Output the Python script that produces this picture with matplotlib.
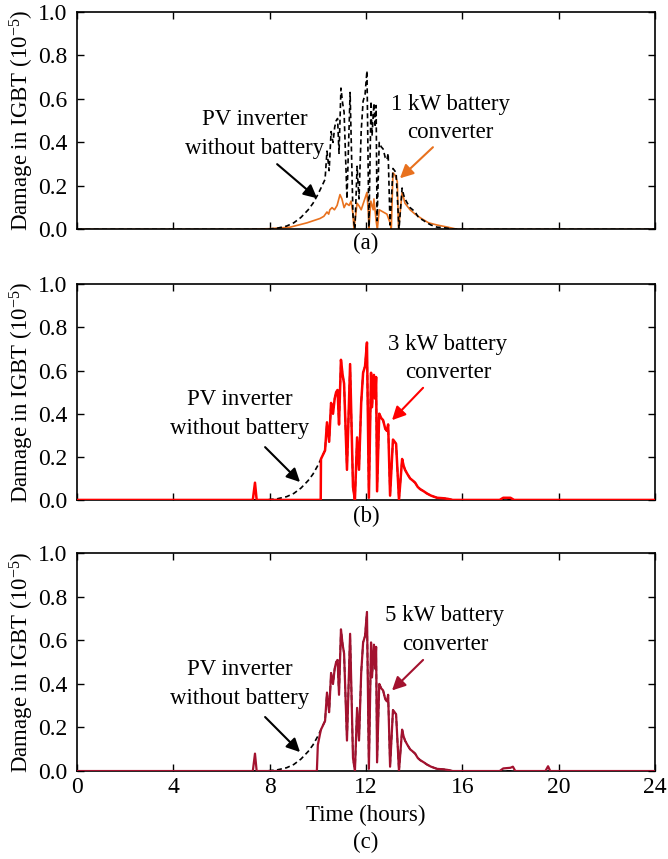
import matplotlib
matplotlib.use("Agg")
import matplotlib.pyplot as plt

plt.rcParams["font.family"] = ["Liberation Serif", "DejaVu Serif"]
plt.rcParams["mathtext.fontset"] = "custom"
plt.rcParams["mathtext.rm"] = "Liberation Serif"
plt.rcParams["mathtext.it"] = "Liberation Serif:italic"

# midday part shared by the no-battery curve and the 3/5 kW converters
midday_t = [10.13, 10.30, 10.38, 10.47, 10.55, 10.63, 10.70, 10.76, 10.82, 10.88,
            10.96, 11.03, 11.09, 11.21, 11.34, 11.46, 11.54, 11.63, 11.71, 11.80,
            11.88, 11.96, 12.04, 12.12, 12.21, 12.25, 12.33, 12.38, 12.42, 12.46,
            12.55, 12.63, 12.71, 12.80, 12.87, 12.92, 13.00, 13.12, 13.19, 13.25,
            13.37, 13.50, 13.56, 13.62, 13.72, 13.83, 13.94, 14.04, 14.15, 14.25,
            14.40, 14.53, 14.70, 14.95, 15.20, 15.40, 15.60, 24.0]
midday_v = [0.19, 0.23, 0.36, 0.27, 0.45, 0.40, 0.47, 0.50, 0.51, 0.35,
            0.65, 0.58, 0.54, 0.14, 0.63, 0.06, 0.00, 0.29, 0.14, 0.45,
            0.59, 0.62, 0.73, 0.01, 0.59, 0.43, 0.58, 0.47, 0.57, 0.04,
            0.40, 0.38, 0.37, 0.33, 0.32, 0.35, 0.02, 0.28, 0.27, 0.26,
            0.00, 0.19, 0.16, 0.14, 0.12, 0.10, 0.09, 0.08, 0.06, 0.05,
            0.04, 0.03, 0.02, 0.01, 0.008, 0.005, 0.0, 0.0]

# PV inverter without battery: morning ramp before the shared part
nobatt_t = [0.0, 7.8, 8.3, 8.7, 9.0, 9.3, 9.6, 9.8, 10.0]
nobatt_v = [0.0, 0.0, 0.005, 0.015, 0.03, 0.055, 0.09, 0.12, 0.16]

# 1 kW battery converter
kw1_t = [0.0, 7.0, 8.0, 8.85, 9.55, 10.09, 10.25, 10.38, 10.45, 10.50, 10.59,
         10.69, 10.80, 10.92, 11.00, 11.09, 11.18, 11.30, 11.38, 11.46, 11.50,
         11.63, 11.70, 11.80, 11.92, 12.04, 12.10, 12.12, 12.20, 12.30, 12.33,
         12.42, 12.47, 12.55, 12.71, 12.87, 13.00, 13.05, 13.12, 13.20, 13.30,
         13.35, 13.50, 13.62, 13.83, 14.04, 14.30, 14.60, 14.95, 15.40, 15.80, 24.0]
kw1_v = [0.0, 0.0, 0.003, 0.01, 0.03, 0.05, 0.06, 0.08, 0.07, 0.09, 0.10,
         0.09, 0.11, 0.16, 0.14, 0.10, 0.12, 0.11, 0.13, 0.07, 0.0,
         0.12, 0.11, 0.09, 0.13, 0.17, 0.07, 0.0, 0.13, 0.09, 0.14,
         0.04, 0.0, 0.09, 0.08, 0.07, 0.03, 0.0, 0.26, 0.25, 0.22,
         0.0, 0.17, 0.12, 0.09, 0.07, 0.05, 0.03, 0.02, 0.01, 0.0, 0.0]

# 3 kW battery converter: morning spike, then follows the shared part
kw3_pre_t = [0.0, 7.30, 7.39, 7.46, 10.12]
kw3_pre_v = [0.0, 0.0, 0.08, 0.0, 0.0]
kw3_eve_t = [17.55, 17.70, 18.00, 18.15]
kw3_eve_v = [0.0, 0.01, 0.01, 0.0]

# 5 kW battery converter
kw5_pre_t = [0.0, 7.30, 7.39, 7.46, 9.96, 10.0, 10.09]
kw5_pre_v = [0.0, 0.0, 0.08, 0.0, 0.0, 0.12, 0.17]
kw5_eve_t = [17.55, 17.70, 18.00, 18.10, 18.20, 19.45, 19.56, 19.65]
kw5_eve_v = [0.0, 0.012, 0.015, 0.02, 0.0, 0.0, 0.022, 0.0]


def merge(pre_t, pre_v, eve_t=(), eve_v=()):
    t = list(pre_t) + midday_t[:-1]
    v = list(pre_v) + midday_v[:-1]
    t += [16.0] + list(eve_t) + [24.0]
    v += [0.0] + list(eve_v) + [0.0]
    return t, v


nobatt = merge(nobatt_t, nobatt_v)
kw3 = merge(kw3_pre_t, kw3_pre_v, kw3_eve_t, kw3_eve_v)
kw5 = merge(kw5_pre_t, kw5_pre_v, kw5_eve_t, kw5_eve_v)

ORANGE = "#E8711E"
RED = "#FF0000"
CRIMSON = "#A3122F"

fig = plt.figure(figsize=(6.68, 8.59), dpi=100)
left, width = 0.1153, 0.8652
axes = [fig.add_axes([left, 0.733, width, 0.253]),
        fig.add_axes([left, 0.418, width, 0.251]),
        fig.add_axes([left, 0.1024, width, 0.2536])]

panels = [
    (kw1_t, kw1_v, ORANGE, 1.2, "1 kW battery\nconverter"),
    (kw3[0], kw3[1], RED, 1.8, "3 kW battery\nconverter"),
    (kw5[0], kw5[1], CRIMSON, 1.6, "5 kW battery\nconverter"),
]

# annotation placement (data coords): pv text, pv arrow tail/tip, bat text, bat arrow tail/tip
notes = [
    ((7.39, 0.44), (8.31, 0.30), (9.97, 0.143), (15.49, 0.51), (14.78, 0.378), (13.41, 0.235)),
    ((6.77, 0.40), (7.81, 0.245), (9.26, 0.083), (15.40, 0.657), (14.37, 0.52), (13.08, 0.37)),
    ((6.77, 0.40), (7.81, 0.248), (9.26, 0.087), (15.28, 0.647), (14.37, 0.51), (13.08, 0.37)),
]

for i, (ax, (t, v, color, lw, label), note) in enumerate(zip(axes, panels, notes)):
    if i == 0:
        ax.plot(t, v, color=color, lw=lw, zorder=2)
        ax.plot(nobatt[0], nobatt[1], color="black", lw=1.2, ls=(0, (3, 2)), zorder=3)
    else:
        ax.plot(nobatt[0], nobatt[1], color="black", lw=1.2, ls=(0, (3, 2)), zorder=2)
        ax.plot(t, v, color=color, lw=lw, zorder=3)

    ax.set_xlim(0, 24)
    ax.set_ylim(0, 1.0)
    ax.set_xticks([0, 4, 8, 12, 16, 20, 24])
    ax.set_yticks([0, 0.2, 0.4, 0.6, 0.8, 1.0])
    ax.set_yticklabels(["0.0", "0.2", "0.4", "0.6", "0.8", "1.0"])
    ax.tick_params(direction="in", top=True, right=True, length=5, width=1,
                   labelsize=17, pad=4)
    ax.tick_params(axis="y", pad=7)
    if i < 2:
        ax.tick_params(labelbottom=False)
    for s in ax.spines.values():
        s.set_linewidth(1.2)
    ax.set_ylabel("Damage in IGBT (10$^{-5}$)", fontsize=16.5)
    ax.yaxis.set_label_coords(-0.071, 0.5)

    pv_txt, pv_tail, pv_tip, b_txt, b_tail, b_tip = note
    ax.text(*pv_txt, "PV inverter\nwithout battery", ha="center", va="center",
            fontsize=16.5, linespacing=1.5)
    ax.annotate("", xy=pv_tip, xytext=pv_tail,
                arrowprops=dict(arrowstyle="-|>", color="black", lw=1.5,
                                mutation_scale=20, shrinkA=0, shrinkB=0))
    ax.text(*b_txt, label, ha="center", va="center", fontsize=16.5, linespacing=1.45)
    ax.annotate("", xy=b_tip, xytext=b_tail,
                arrowprops=dict(arrowstyle="-|>", color=color, lw=1.5,
                                mutation_scale=20, shrinkA=0, shrinkB=0))

fig.text(0.548, 0.717, "(a)", ha="center", va="center", fontsize=16.5)
fig.text(0.548, 0.399, "(b)", ha="center", va="center", fontsize=16.5)
fig.text(0.548, 0.051, "Time (hours)", ha="center", va="center", fontsize=16.5)
fig.text(0.548, 0.0198, "(c)", ha="center", va="center", fontsize=16.5)

fig.savefig("out.png", dpi=100)
